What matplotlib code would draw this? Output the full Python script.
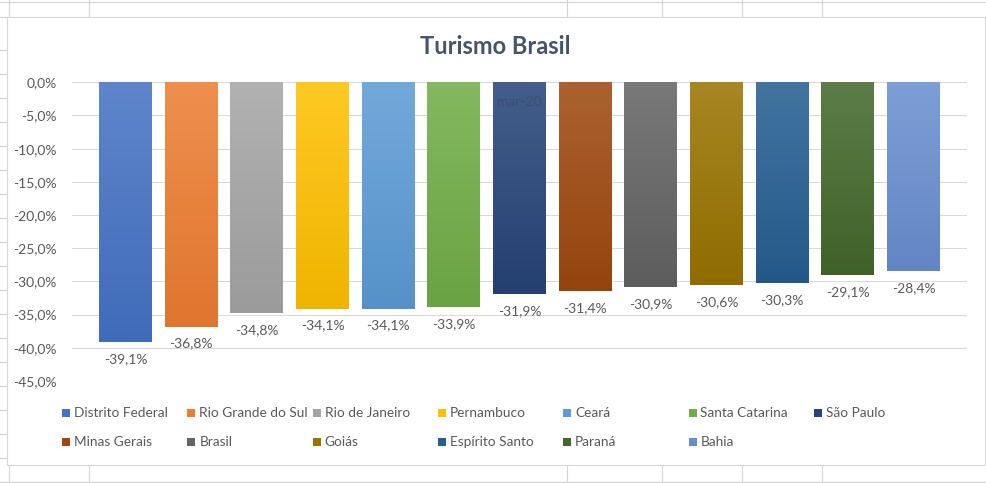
import numpy as np
import matplotlib
matplotlib.use("Agg")
import matplotlib.pyplot as plt
from matplotlib.colors import LinearSegmentedColormap, to_rgb
from matplotlib.patches import Rectangle
from matplotlib.lines import Line2D
from matplotlib.ticker import FuncFormatter

# Data
title = "Turismo Brasil"
category = "mar-20"
states = ["Distrito Federal", "Rio Grande do Sul", "Rio de Janeiro", "Pernambuco",
          "Ceará", "Santa Catarina", "São Paulo", "Minas Gerais", "Brasil",
          "Goiás", "Espírito Santo", "Paraná", "Bahia"]
values = [-39.1, -36.8, -34.8, -34.1, -34.1, -33.9, -31.9,
          -31.4, -30.9, -30.6, -30.3, -29.1, -28.4]
colors = ["#4472C4", "#ED7D31", "#A5A5A5", "#FFC000", "#5B9BD5", "#70AD47", "#264478",
          "#9E480E", "#636363", "#997300", "#255E91", "#43682B", "#698ED0"]
yticks = [0, -5, -10, -15, -20, -25, -30, -35, -40, -45]

W, H = 986, 483
plt.rcParams['font.family'] = ['Lato', 'DejaVu Sans']
txt_color = "#595959"
grid_color = "#D9D9D9"


def fx(px):
    return px / W


def fy(py):
    return 1 - py / H


def mix(c, other, t):
    c = np.array(to_rgb(c))
    return tuple(c * (1 - t) + np.array(other) * t)


fig = plt.figure(figsize=(W / 100, H / 100), dpi=100)

# spreadsheet cell grid behind the chart
sheet = "#D4D4D4"
for py in [2, 17] + list(range(50, 483, 24)) + [482]:
    fig.add_artist(Line2D([0, 1], [fy(py), fy(py)], color=sheet, lw=0.8, zorder=0))
for px in [9, 89, 567, 662, 742, 822]:
    fig.add_artist(Line2D([fx(px), fx(px)], [0, 1], color=sheet, lw=0.8, zorder=0))

# chart area
fig.add_artist(Rectangle((fx(7), fy(465)), fx(985) - fx(7), fy(17) - fy(465),
                         transform=fig.transFigure, facecolor="white",
                         edgecolor=grid_color, lw=0.8, zorder=1))

ax = fig.add_axes([fx(72), fy(381), fx(967) - fx(72), fy(82.3) - fy(381)], zorder=2)
ax.set_facecolor("none")
ax.set_axisbelow(True)

x = np.arange(len(states))
bw = 0.807
bars = ax.bar(x, values, width=bw, color=colors, zorder=2)

# gradient fill like Excel
grad = np.linspace(0, 1, 256).reshape(-1, 1)
for b, c in zip(bars, colors):
    cmap = LinearSegmentedColormap.from_list("g", [mix(c, (1, 1, 1), 0.14), mix(c, (0, 0, 0), 0.06)])
    x0, w = b.get_x(), b.get_width()
    y0, h = b.get_y(), b.get_height()
    im = ax.imshow(grad, extent=[x0, x0 + w, y0 + h, y0], aspect="auto",
                   cmap=cmap, origin="upper", zorder=2.1)
    im.set_clip_path(b)

for xi, v in zip(x, values):
    ax.annotate(f"{v:.1f}%".replace(".", ","), xy=(xi, v), xytext=(0, -12.2),
                textcoords="offset points", ha="center", va="center",
                fontsize=10, color=txt_color, zorder=3)

# category label, almost hidden behind the middle bar
ax.annotate(category, xy=(x.mean(), 0), xytext=(0, -14.5), textcoords="offset points",
            ha="center", va="center", fontsize=10, color="#333333", alpha=0.3, zorder=3)

ax.set_xlim(-0.815, len(states) - 1 + 0.815)
ax.set_ylim(-45, 0)
ax.set_yticks(yticks)
ax.yaxis.set_major_formatter(FuncFormatter(lambda v, p: f"{v:.1f}%".replace(".", ",")))
ax.set_xticks([])
ax.tick_params(axis="y", length=0, pad=10.8, labelsize=10, labelcolor=txt_color)
ax.grid(axis="y", color=grid_color, lw=0.75)
for s in ax.spines.values():
    s.set_visible(False)

fig.text(fx(495), fy(46), title, ha="center", va="center", fontsize=17,
         fontweight="bold", color="#44546A")

# legend, laid out like Excel (7 per row)
for i, (name, c) in enumerate(zip(states, colors)):
    row, col = divmod(i, 7)
    lx = 62 + col * 125.3
    ly = 413 + row * 29
    fig.add_artist(Rectangle((fx(lx), fy(ly + 4)), fx(8), 8 / H,
                             transform=fig.transFigure, facecolor=c, edgecolor="none", zorder=3))
    fig.text(fx(lx + 12), fy(ly), name, ha="left", va="center", fontsize=9.8,
             color=txt_color, zorder=3)

fig.savefig("out.png", dpi=100)
